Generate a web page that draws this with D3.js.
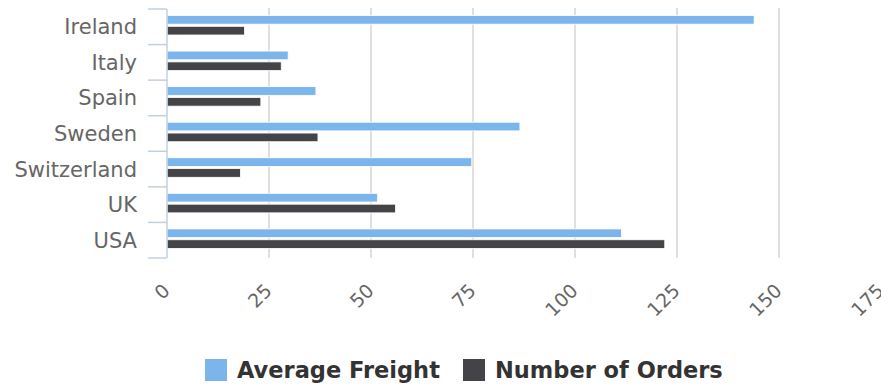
<!DOCTYPE html>
<html>
<head>
<meta charset="utf-8">
<script src="https://cdn.jsdelivr.net/npm/d3@7"></script>
<style>
  body { margin: 0; background: #ffffff; }
  svg { display: block; font-family: "DejaVu Sans", Verdana, sans-serif; }
</style>
</head>
<body>
<svg id="chart" width="881" height="385"></svg>
<script>
// Data
const countries = ["Ireland", "Italy", "Spain", "Sweden", "Switzerland", "UK", "USA"];
const averageFreight = [143.9, 29.7, 36.5, 86.5, 74.7, 51.6, 111.4];
const numberOfOrders = [19, 28, 23, 37, 18, 56, 122];
const seriesNames = ["Average Freight", "Number of Orders"];
const seriesColors = ["#7cb5ec", "#434348"];
const xTicks = [0, 25, 50, 75, 100, 125, 150, 175];

const PLOT_LEFT = 167;
const PLOT_RIGHT = 881;
const PLOT_TOP = 9;
const PLOT_BOTTOM = 258;

let svg = d3.select('#chart');

let xScale = d3.scaleLinear().domain([0, 175]).range([PLOT_LEFT, PLOT_RIGHT]);
let yScale = d3.scaleBand().domain(countries).range([PLOT_TOP, PLOT_BOTTOM]);
// inner band for the two series inside each country
let ySub = d3.scaleBand().domain(seriesNames).range([6.5, 26]).paddingInner(0.2);

// gridlines (skip 0 and the last one at the edge)
svg.append('g').attr('id', 'grid')
  .selectAll('line')
  .data(xTicks.filter(t => t > 0 && t < 175))
  .enter()
  .append('line')
  .attr('x1', d => xScale(d)).attr('x2', d => xScale(d))
  .attr('y1', PLOT_TOP - 1).attr('y2', PLOT_BOTTOM)
  .attr('stroke', '#e0e0e0')
  .attr('stroke-width', 2);

// bars
let rows = countries.map((c, i) => ({ country: c, values: [averageFreight[i], numberOfOrders[i]] }));
let groups = svg.append('g').attr('id', 'bars')
  .selectAll('g')
  .data(rows)
  .enter()
  .append('g')
  .attr('transform', d => 'translate(0,' + yScale(d.country) + ')');

groups.selectAll('rect')
  .data(d => d.values.map((v, j) => ({ name: seriesNames[j], value: v, color: seriesColors[j] })))
  .enter()
  .append('rect')
  .attr('x', xScale(0))
  .attr('y', d => ySub(d.name))
  .attr('width', d => xScale(d.value) - xScale(0))
  .attr('height', ySub.bandwidth())
  .attr('fill', d => d.color)
  .attr('stroke', '#ffffff')
  .attr('stroke-width', 0.8);

// category axis on the left
let yAxis = d3.axisLeft(yScale).tickSize(0).tickPadding(30);
let yAxisG = svg.append('g').attr('id', 'y-axis')
  .attr('transform', 'translate(' + PLOT_LEFT + ',0)')
  .call(yAxis)
  .attr('font-family', null);   // d3 puts sans-serif here, use the svg font instead
yAxisG.select('.domain').remove();
yAxisG.selectAll('text')
  .attr('fill', '#666666')
  .style('font-family', '"DejaVu Sans", Verdana, sans-serif')
  .style('font-size', '21px')
  .attr('dy', '0.36em');

// axis line and the tick marks between categories
let boundaries = countries.map(c => yScale(c)).concat([PLOT_BOTTOM]);
yAxisG.append('line')
  .attr('x1', 0).attr('x2', 0)
  .attr('y1', PLOT_TOP).attr('y2', PLOT_BOTTOM)
  .attr('stroke', '#c0d0e0').attr('stroke-width', 1.5);
yAxisG.selectAll('.band-tick')
  .data(boundaries)
  .enter()
  .append('line')
  .attr('class', 'band-tick')
  .attr('x1', -19).attr('x2', 0)
  .attr('y1', d => d).attr('y2', d => d)
  .attr('stroke', '#c0d0e0').attr('stroke-width', 1.5);

// value axis labels, rotated
svg.append('g').attr('id', 'x-axis')
  .selectAll('text')
  .data(xTicks)
  .enter()
  .append('text')
  .attr('transform', d => 'translate(' + (xScale(d) + 4) + ',292) rotate(-45)')
  .attr('text-anchor', 'end')
  .attr('fill', '#666666')
  .style('font-size', '19px')
  .text(d => d);

// legend
let legend = svg.append('g').attr('id', 'legend');
let legendX = [205, 463];
seriesNames.forEach((name, i) => {
  legend.append('rect')
    .attr('x', legendX[i]).attr('y', 359)
    .attr('width', 22).attr('height', 22)
    .attr('fill', seriesColors[i]);
  legend.append('text')
    .attr('x', legendX[i] + 32).attr('y', 378)
    .attr('fill', '#333333')
    .style('font-size', '22.5px')
    .style('font-weight', 'bold')
    .text(name);
});
</script>
</body>
</html>
